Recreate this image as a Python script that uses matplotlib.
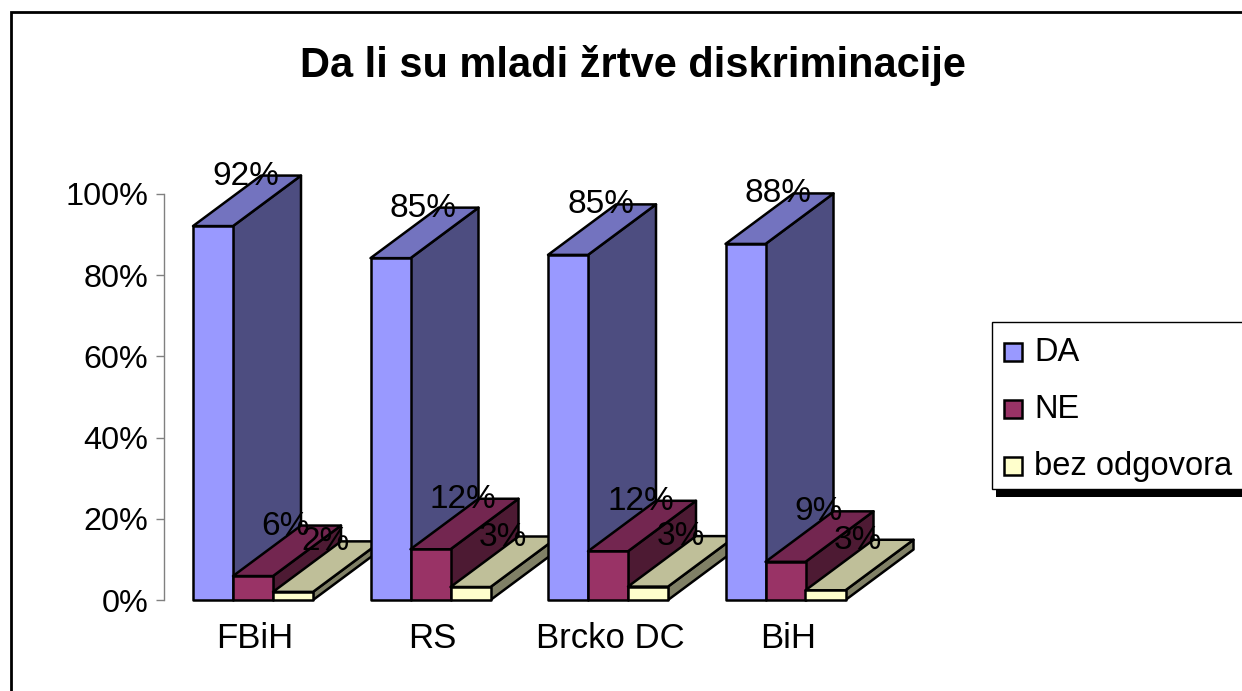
import matplotlib
matplotlib.use("Agg")
import matplotlib.pyplot as plt
from matplotlib.patches import Polygon, Rectangle
from matplotlib.lines import Line2D
from matplotlib.legend_handler import HandlerLine2D
from matplotlib.transforms import Affine2D

plt.rcParams['font.family'] = ['Liberation Sans', 'DejaVu Sans']

categories = ["FBiH", "RS", "Brcko DC", "BiH"]
da_values = [92.1, 84.2, 85.0, 87.7]
ne_values = [5.9, 12.5, 12.0, 9.4]
bez_values = [2.0, 3.2, 3.3, 2.4]
da_labels = ["92%", "85%", "85%", "88%"]
ne_labels = ["6%", "12%", "12%", "9%"]
bez_labels = ["2%", "3%", "3%", "3%"]
y_ticks = [0, 20, 40, 60, 80, 100]
y_tick_labels = ["0%", "20%", "40%", "60%", "80%", "100%"]
series_names = ["DA", "NE", "bez odgovora"]

W, H = 1242, 691
FRONT = ["#9999FF", "#993366", "#FFFFCC"]
TOP = ["#7373BF", "#732650", "#BFBF99"]
SIDE = ["#4D4D80", "#4D1A33", "#808066"]

fig = plt.figure(figsize=(W / 100, H / 100), dpi=100)
fig.patch.set_facecolor("white")

# outer chart frame, running off the right and bottom edges
fig.add_artist(Rectangle((10.5 / W, -0.05), 1.2, 1.05 - 11.5 / H, transform=fig.transFigure,
                         fc="white", ec="black", lw=2.0, zorder=-1))

# plot area in pixels: x 164..874, y 194..600
ax = fig.add_axes([164 / W, 1 - 600 / H, 710 / W, 406 / H])
ax.set_xlim(0, 4)
ax.set_ylim(0, 100)
ax.patch.set_visible(False)
for s in ["top", "right", "bottom"]:
    ax.spines[s].set_visible(False)
ax.spines["left"].set_color("#808080")
ax.spines["left"].set_linewidth(1.0)
ax.set_yticks(y_ticks)
ax.set_yticklabels(y_tick_labels, fontsize=23.3)
ax.tick_params(axis="y", length=5.5, width=1.0, color="#808080", pad=6)
ax.set_xticks([i + 0.514 for i in range(len(categories))])
ax.set_xticklabels(categories, fontsize=25)
ax.tick_params(axis="x", length=0, pad=15.5)

bar_w = 40 / 177.5
left_gap = 29 / 177.5
dx = 68 / 177.5
dy = 50.5 / 406 * 100
lw = 1.8


def bar3d(x0, h, k):
    x1 = x0 + bar_w
    faces = [
        ([(x1, 0), (x1 + dx, dy), (x1 + dx, h + dy), (x1, h)], SIDE[k]),
        ([(x0, h), (x1, h), (x1 + dx, h + dy), (x0 + dx, h + dy)], TOP[k]),
        ([(x0, 0), (x1, 0), (x1, h), (x0, h)], FRONT[k]),
    ]
    for pts, c in faces:
        ax.add_patch(Polygon(pts, closed=True, fc=c, ec="black", lw=lw, joinstyle="round",
                             clip_on=False, zorder=3))


all_vals = [da_values, ne_values, bez_values]
all_labs = [da_labels, ne_labels, bez_labels]
for g in range(len(categories)):
    for k in range(3):
        bar3d(g + left_gap + k * bar_w, all_vals[k][g], k)
for g in range(len(categories)):
    for k in range(3):
        x = g + left_gap + (k + 0.5) * bar_w
        ax.annotate(all_labs[k][g], (x, all_vals[k][g]), xytext=(23.5, 36), textcoords="offset points",
                    ha="center", va="center", fontsize=24, color="black", zorder=5,
                    annotation_clip=False)

fig.text(633 / W, 1 - 65 / H, "Da li su mladi žrtve diskriminacije", ha="center", va="center",
         fontsize=29.9, fontweight="bold")

# legend box with heavy shadow, cut by the right edge
fig.add_artist(Rectangle((996 / W, 1 - 497 / H), 300 / W, 167 / H, transform=fig.transFigure,
                         fc="black", ec="none", zorder=6))
fig.add_artist(Rectangle((991.5 / W, 1 - 488.5 / H), 300 / W, 167 / H, transform=fig.transFigure,
                         fc="white", ec="black", lw=1.0, zorder=7))


class LoweredMarker(HandlerLine2D):
    def create_artists(self, legend, orig_handle, xdescent, ydescent, width, height, fontsize, trans):
        return super().create_artists(legend, orig_handle, xdescent, ydescent, width, height, fontsize,
                                      Affine2D().translate(0, -1.5) + trans)


handles = [Line2D([], [], ls="none", marker="s", ms=12.5, mfc=c, mec="black", mew=1.8) for c in FRONT]
leg = fig.legend(handles, series_names, loc="upper left", bbox_to_anchor=(987 / W, 1 - 321 / H),
                 frameon=False, fontsize=23.5, handlelength=0.6, handletextpad=0.36,
                 labelspacing=0.8, borderpad=0.49, borderaxespad=0,
                 handler_map={Line2D: LoweredMarker()})
leg.set_zorder(8)

fig.savefig("out.png", dpi=100)
